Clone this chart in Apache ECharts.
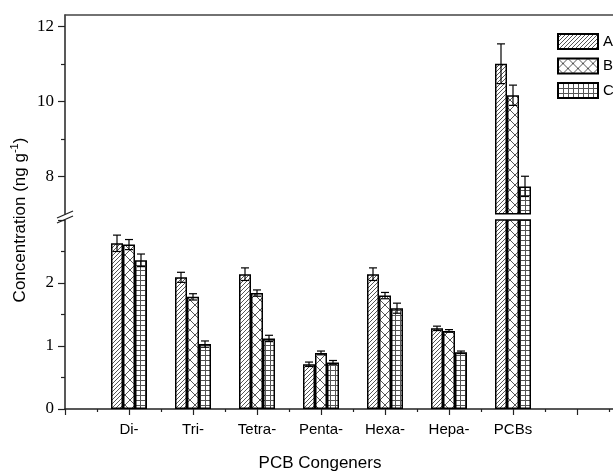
<!DOCTYPE html>
<html>
<head>
<meta charset="utf-8">
<script src="https://cdn.jsdelivr.net/npm/echarts@6/dist/echarts.min.js"></script>
<style>
html,body{margin:0;padding:0;background:#fff;}
#main{width:613px;height:472px;}
</style>
</head>
<body>
<div id="main"></div>
<script>
// 数据
var congeners = ['Di-', 'Tri-', 'Tetra-', 'Penta-', 'Hexa-', 'Hepa-', 'PCBs'];
var seriesNames = ['A-', 'B', 'C'];
var valA = [2.63, 2.09, 2.14, 0.71, 2.14, 1.28, 11.0];
var valB = [2.61, 1.78, 1.84, 0.89, 1.80, 1.24, 10.16];
var valC = [2.36, 1.03, 1.12, 0.74, 1.60, 0.90, 7.73];
var errA = [0.13, 0.08, 0.10, 0.035, 0.10, 0.035, 0.53];
var errB = [0.08, 0.05, 0.05, 0.03, 0.05, 0.02, 0.27];
var errC = [0.10, 0.05, 0.05, 0.03, 0.08, 0.02, 0.27];
var lowTicks = [0, 1, 2];
var highTicks = [8, 10, 12];
var highMinor = [9, 11];

(function(){

var chart = echarts.init(document.getElementById('main'));

function makePattern(size, draw) {
    var c = document.createElement('canvas');
    c.width = size; c.height = size;
    var ctx = c.getContext('2d');
    ctx.fillStyle = '#fff';
    ctx.fillRect(0, 0, size, size);
    ctx.strokeStyle = '#555';
    ctx.lineWidth = 1;
    ctx.beginPath();
    draw(ctx, size);
    ctx.stroke();
    return {image: c, repeat: 'repeat'};
}

var patterns = [
    makePattern(4, function(ctx, s){
        ctx.moveTo(0, s); ctx.lineTo(s, 0);
        ctx.moveTo(-1, 1); ctx.lineTo(1, -1);
        ctx.moveTo(s - 1, s + 1); ctx.lineTo(s + 1, s - 1);
    }),
    makePattern(10, function(ctx, s){
        ctx.moveTo(0, 0); ctx.lineTo(s, s);
        ctx.moveTo(0, s); ctx.lineTo(s, 0);
    }),
    makePattern(5, function(ctx, s){
        ctx.moveTo(0.5, 0); ctx.lineTo(0.5, s);
        ctx.moveTo(0, 0.5); ctx.lineTo(s, 0.5);
    })
];

var values = [valA, valB, valC];
var errors = [errA, errB, errC];
var offsets = [-12, 0, 12];
var ranges = [[0, 3], [7, 12.3]];

var axisLine = {show: true, lineStyle: {color: '#222', width: 1.5}};
var yLabel = {color: '#000', fontFamily: 'Liberation Serif', fontSize: 17, margin: 11};
var xLabel = {color: '#000', fontFamily: 'Liberation Sans', fontSize: 15, margin: 13};

var series = [];
[0, 1].forEach(function(g){
    values.forEach(function(vals, k){
        series.push({
            name: seriesNames[k],
            type: 'bar',
            xAxisIndex: g,
            yAxisIndex: g,
            barWidth: 12,
            barGap: '0%',
            clip: true,
            itemStyle: {color: patterns[k], borderColor: '#000', borderWidth: 1.5},
            data: vals.map(function(v, i){ return [i + 1, v]; })
        });
    });
    values.forEach(function(vals, k){
        series.push({
            name: 'err' + k + '_' + g,
            type: 'custom',
            xAxisIndex: g,
            yAxisIndex: g,
            z: 5,
            data: vals.map(function(v, i){ return [i + 1, v, errors[k][i]]; }),
            renderItem: function(params, api){
                var x = api.value(0), y = api.value(1), e = api.value(2);
                if (y < ranges[g][0] || y > ranges[g][1]) return;
                var top = api.coord([x, y + e]);
                var bot = api.coord([x, y - e]);
                var cx = top[0] + offsets[k];
                var st = {stroke: '#000', lineWidth: 1.2};
                return {
                    type: 'group',
                    children: [
                        {type: 'line', shape: {x1: cx, y1: top[1], x2: cx, y2: bot[1]}, style: st},
                        {type: 'line', shape: {x1: cx - 4, y1: top[1], x2: cx + 4, y2: top[1]}, style: st},
                        {type: 'line', shape: {x1: cx - 4, y1: bot[1], x2: cx + 4, y2: bot[1]}, style: st}
                    ]
                };
            }
        });
    });
});

option = {
    animation: false,
    backgroundColor: '#fff',
    grid: [
        {left: 65, right: -28, top: 220, height: 189, outerBoundsMode: 'none', containLabel: false},
        {left: 65, right: -28, top: 15, height: 198.75, outerBoundsMode: 'none', containLabel: false}
    ],
    legend: {
        orient: 'vertical',
        left: 557,
        top: 33,
        padding: 0,
        itemWidth: 40,
        itemHeight: 15,
        itemGap: 7.5,
        icon: 'rect',
        selectedMode: false,
        data: seriesNames,
        textStyle: {color: '#000', fontFamily: 'Liberation Sans', fontSize: 15}
    },
    xAxis: [
        {
            type: 'value', gridIndex: 0, min: 0, max: 9, interval: 1,
            position: 'bottom',
            axisLine: axisLine,
            axisTick: {show: true, length: 6, lineStyle: {color: '#222', width: 1.2}},
            minorTick: {show: true, splitNumber: 2, length: 3, lineStyle: {color: '#222', width: 1.2}},
            splitLine: {show: false},
            axisLabel: Object.assign({
                formatter: function(v){ return congeners[v - 1] || ''; }
            }, xLabel)
        },
        {
            type: 'value', gridIndex: 1, min: 0, max: 9, interval: 1,
            position: 'top',
            axisLine: {show: true, lineStyle: {color: '#444', width: 1.5}},
            axisTick: {show: false},
            splitLine: {show: false},
            axisLabel: {show: false}
        }
    ],
    yAxis: [
        {
            type: 'value', gridIndex: 0, min: 0, max: 3, interval: 1,
            axisLine: axisLine,
            axisTick: {show: true, length: 7, lineStyle: {color: '#222', width: 1.2}},
            minorTick: {show: true, splitNumber: 2, length: 4, lineStyle: {color: '#222', width: 1.2}},
            splitLine: {show: false},
            axisLabel: Object.assign({
                customValues: lowTicks
            }, yLabel)
        },
        {
            type: 'value', gridIndex: 1, min: 7, max: 12.3,
            axisLine: axisLine,
            axisTick: {show: true, length: 7, customValues: highTicks, lineStyle: {color: '#222', width: 1.2}},
            splitLine: {show: false},
            axisLabel: Object.assign({
                customValues: highTicks
            }, yLabel)
        },
        {
            type: 'value', gridIndex: 1, min: 7, max: 12.3,
            position: 'left',
            axisLine: {show: false},
            axisTick: {show: true, length: 4, customValues: highMinor, lineStyle: {color: '#222', width: 1.2}},
            splitLine: {show: false},
            axisLabel: {show: false}
        }
    ],
    graphic: [
        {type: 'line', shape: {x1: 57, y1: 218, x2: 73, y2: 211}, style: {stroke: '#222', lineWidth: 1.3}},
        {type: 'line', shape: {x1: 57, y1: 223, x2: 73, y2: 216}, style: {stroke: '#222', lineWidth: 1.3}},
        {
            type: 'text', x: 20, y: 220, rotation: Math.PI / 2,
            style: {
                text: '{a|Concentration (ng g}{s|-1}{a|)}',
                align: 'center',
                verticalAlign: 'middle',
                rich: {
                    a: {fontFamily: 'Liberation Sans', fontSize: 17, color: '#000', lineHeight: 22},
                    s: {fontFamily: 'Liberation Sans', fontSize: 11, color: '#000', verticalAlign: 'top', lineHeight: 16}
                }
            }
        },
        {
            type: 'text', x: 320, y: 463,
            style: {
                text: 'PCB Congeners',
                align: 'center',
                verticalAlign: 'middle',
                fontFamily: 'Liberation Sans',
                fontSize: 17,
                fill: '#000'
            }
        }
    ],
    series: series
};

chart.setOption(option);
})();
</script>
</body>
</html>
